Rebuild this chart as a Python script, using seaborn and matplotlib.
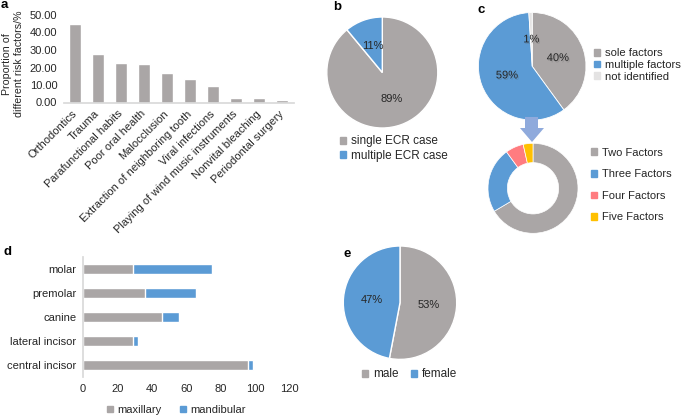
import matplotlib
matplotlib.use("Agg")
import matplotlib.pyplot as plt
import matplotlib.patheffects as pe
from matplotlib.patches import Patch, Polygon
import pandas as pd
import seaborn as sns

# ---- data ----
# a: risk factors
risk_factors = ["Orthodontics", "Trauma", "Parafunctional habits", "Poor oral health",
                "Malocclusion", "Extraction of neighboring tooth", "Viral infections",
                "Playing of wind music instruments", "Nonvital bleaching", "Periodontal surgery"]
risk_pct = [44.9, 27.9, 22.8, 22.2, 16.9, 13.4, 9.4, 2.5, 2.5, 1.7]

# b: single vs multiple
ecr_labels = ["single ECR case", "multiple ECR case"]
ecr_values = [89, 11]

# c: factors
factor_labels = ["sole factors", "multiple factors", "not identified"]
factor_values = [40, 59, 1]
multi_labels = ["Two Factors", "Three Factors", "Four Factors", "Five Factors"]
multi_values = [66.5, 23.5, 6.5, 3.5]

# d: tooth type
tooth_types = ["molar", "premolar", "canine", "lateral incisor", "central incisor"]
maxillary = [29, 36, 46, 29, 96]
mandibular = [46, 30, 10, 3, 3]

# e: sex
sex_labels = ["male", "female"]
sex_values = [53, 47]

GRAY = "#AAA6A6"
BLUE = "#5B9BD5"
LIGHT = "#E4E3E3"
PINK = "#FF7C80"
YELLOW = "#FFC000"
TXT = "#262626"

sns.set_theme(style="white")
plt.rcParams["font.family"] = ["Liberation Sans", "DejaVu Sans"]
plt.rcParams["text.color"] = TXT
plt.rcParams["xtick.color"] = TXT
plt.rcParams["ytick.color"] = TXT

W, H = 681, 416
fig = plt.figure(figsize=(W / 100, H / 100), dpi=100)


def px_axes(x0, y0, x1, y1):
    return fig.add_axes([x0 / W, 1 - y1 / H, (x1 - x0) / W, (y1 - y0) / H])


def fx(x):
    return x / W


def fy(y):
    return 1 - y / H


def legend_at(handles, labels, x, y, fs=8, ncol=1, spacing=0.2, colsp=1.5):
    fig.legend(handles, labels, loc="center left", bbox_to_anchor=(fx(x), fy(y)),
               bbox_transform=fig.transFigure, frameon=False, fontsize=fs,
               handlelength=0.55, handleheight=0.55, handletextpad=0.4,
               borderpad=0, borderaxespad=0, labelspacing=spacing, ncol=ncol,
               columnspacing=colsp)


# ---- a: bar chart ----
ax_a = px_axes(63.5, 11.5, 293.5, 102.5)
df_a = pd.DataFrame({"factor": risk_factors, "pct": risk_pct})
sns.barplot(data=df_a, x="factor", y="pct", color=GRAY, saturation=1, width=0.52,
            errorbar=None, ax=ax_a)
ax_a.set_ylim(0, 52)
ax_a.set_yticks([0, 10, 20, 30, 40, 50])
ax_a.set_yticklabels([f"{v:.2f}" for v in [0, 10, 20, 30, 40, 50]], fontsize=8)
ax_a.set_xticks(range(len(risk_factors)))
ax_a.set_xticklabels(risk_factors, rotation=45, ha="right", va="center",
                     rotation_mode="anchor", fontsize=8)
ax_a.tick_params(axis="x", length=0, pad=7)
ax_a.tick_params(axis="y", length=0, pad=4.5)
ax_a.set_xlabel("")
ax_a.set_ylabel("")
for s in ["top", "right", "left"]:
    ax_a.spines[s].set_visible(False)
ax_a.spines["bottom"].set_color("#D9D9D9")
fig.text(fx(13), fy(64), "Proportion of\ndifferent risk factors/%", rotation=90,
         ha="center", va="center", multialignment="center", fontsize=7.7)


def draw_pie(cx, cy, r, values, colors, pct=True, width=None, lw=1.0, shadow=False):
    ax = px_axes(cx - r, cy - r, cx + r, cy + r)
    wp = dict(edgecolor="white", linewidth=lw)
    if width is not None:
        wp["width"] = width
    res = ax.pie(values, colors=colors, startangle=90, counterclock=False,
                 autopct="%.0f%%" if pct else None, pctdistance=0.5,
                 wedgeprops=wp, textprops=dict(fontsize=8, color=TXT))
    ax.set_aspect("auto")
    ax.set_xlim(-1, 1)
    ax.set_ylim(-1, 1)
    for w in res[0]:
        w.set_clip_on(False)
    if pct and shadow:
        for t in res[2]:
            t.set_path_effects([pe.withSimplePatchShadow(offset=(0.8, -1.0),
                                                         shadow_rgbFace="#666666",
                                                         alpha=0.3)])
    return res[0]


# ---- b ----
draw_pie(382.3, 72.5, 55.5, ecr_values, [GRAY, BLUE])
legend_at([Patch(color=GRAY), Patch(color=BLUE)], ecr_labels, 340, 148.5, fs=8.5)

# ---- c ----
draw_pie(532.2, 66.3, 53.8, factor_values, [GRAY, BLUE, LIGHT], lw=0.6, shadow=True)
legend_at([Patch(color=GRAY), Patch(color=BLUE), Patch(color=LIGHT)], factor_labels,
          594, 65, fs=8.1, spacing=0.16)

arrow = Polygon([(fx(525), fy(117)), (fx(538), fy(117)), (fx(538), fy(128)),
                 (fx(544), fy(128)), (fx(532), fy(142)), (fx(520), fy(128)),
                 (fx(525), fy(128))], closed=True, transform=fig.transFigure,
                facecolor="#8FAADC", edgecolor="none")
fig.add_artist(arrow)

draw_pie(533, 188.3, 45, multi_values, [GRAY, BLUE, PINK, YELLOW], pct=False,
         width=0.43, lw=0.5)
legend_at([Patch(color=c) for c in [GRAY, BLUE, PINK, YELLOW]], multi_labels,
          591, 185, fs=8, spacing=1.05)

# ---- d: stacked horizontal bars ----
ax_d = px_axes(82.7, 257, 289.5, 377)
df_d = pd.DataFrame({"tooth": tooth_types, "maxillary": maxillary, "mandibular": mandibular})
df_d["total"] = df_d["maxillary"] + df_d["mandibular"]
sns.barplot(data=df_d, y="tooth", x="total", color=BLUE, saturation=1, width=0.39,
            errorbar=None, orient="h", ax=ax_d)
sns.barplot(data=df_d, y="tooth", x="maxillary", color=GRAY, saturation=1, width=0.39,
            errorbar=None, orient="h", ax=ax_d)
ax_d.set_xlim(0, 120)
ax_d.set_ylim(4.5, -0.5)
ax_d.set_xticks(range(0, 121, 20))
ax_d.tick_params(axis="both", length=0, labelsize=8)
ax_d.tick_params(axis="x", pad=5)
ax_d.tick_params(axis="y", pad=4.5)
ax_d.set_xlabel("")
ax_d.set_ylabel("")
for s in ["top", "right", "bottom"]:
    ax_d.spines[s].set_visible(False)
ax_d.spines["left"].set_color("#D9D9D9")
legend_at([Patch(color=GRAY), Patch(color=BLUE)], ["maxillary", "mandibular"],
          107, 410, fs=8, ncol=2, colsp=1.6)

# ---- e ----
draw_pie(400, 302.7, 56.7, sex_values, [GRAY, BLUE])
legend_at([Patch(color=GRAY), Patch(color=BLUE)], sex_labels, 362, 374.3, fs=8.5,
          ncol=2, colsp=1.0)

# panel letters
for letter, x, y in [("a", 1, 5), ("b", 333, 7), ("c", 478, 10), ("d", 3, 252), ("e", 343, 254)]:
    fig.text(fx(x), fy(y), letter, fontsize=9.5, fontweight="bold", ha="left",
             va="center", color="black")

fig.savefig("out.png", dpi=100)
